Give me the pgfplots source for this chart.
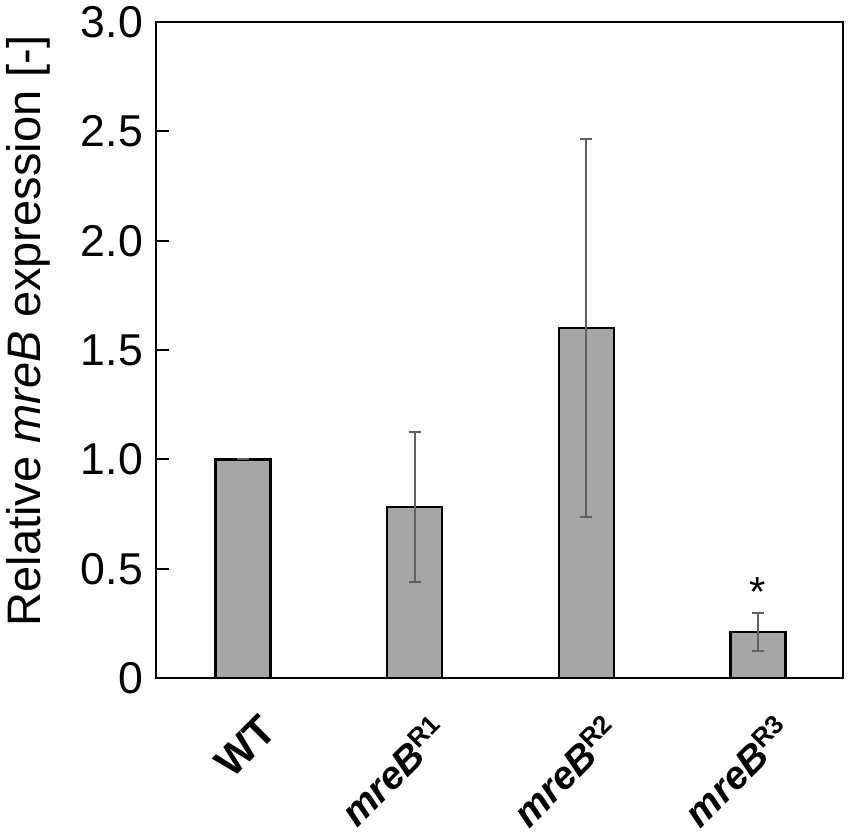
\documentclass[border=0pt]{standalone}
\usepackage{pgfplots}
\pgfplotsset{compat=1.18}
\usepackage{fontspec}
\setmainfont{Liberation Sans}
\definecolor{barfill}{RGB}{166,166,166}
\definecolor{errcol}{RGB}{96,96,96}
\newcommand{\mut}[1]{\textbf{\textit{mreB}}\raisebox{0.33em}{\fontsize{13}{13}\selectfont\bfseries R#1}}
\begin{document}
\begin{tikzpicture}
\begin{axis}[
  name=ax,
  scale only axis,
  width=343.5pt, height=328pt,
  xmin=-0.507, xmax=3.495,
  ymin=0, ymax=3,
  ybar, bar width=27.5pt,
  axis line style={line width=1pt},
  xtick={0,1,2,3},
  xticklabels={{\fontsize{21}{21}\selectfont\textbf{WT}},\mut{1},\mut{2},\mut{3}},
  major x tick style={draw=none},
  xticklabel style={font=\fontsize{19.5}{19.5}\selectfont, xshift=7.4pt, yshift=-12.6pt, rotate=45, anchor=north east},
  ytick={0,0.5,1,1.5,2,2.5,3},
  yticklabels={0,0.5,1.0,1.5,2.0,2.5,3.0},
  ytick pos=left,
  tick align=inside,
  major tick length=6.5pt,
  ytick style={line width=1pt, black},
  yticklabel style={font=\fontsize{22.3}{22.3}\selectfont, xshift=-3pt},
  /pgf/number format/assume math mode=true,
  ylabel={Relative \textit{mreB} expression [-]},
  ylabel style={font=\fontsize{23.5}{23.5}\selectfont, at={(axis description cs:-0.186,0.529)}, anchor=center},
]
\addplot[fill=barfill, draw=black, line width=1.2pt,
  error bars/.cd, y dir=both, y explicit,
  error bar style={color=errcol, line width=1pt},
  error mark options={rotate=90, mark size=3pt, line width=1pt, color=errcol}]
  coordinates {
  (0,1.0) +- (0,0.0)
  (1,0.782) +- (0,0.343)
  (2,1.601) +- (0,0.864)
  (3,0.210) +- (0,0.085)
  };
\node[anchor=base, font=\fontsize{21}{21}\selectfont] at (axis cs:3,0.325) {*};
\end{axis}
\pgfresetboundingbox
\useasboundingbox ([shift={(-78pt,-78pt)}]ax.south west) rectangle ([shift={(347.5pt,339pt)}]ax.south west);
\end{tikzpicture}
\end{document}
